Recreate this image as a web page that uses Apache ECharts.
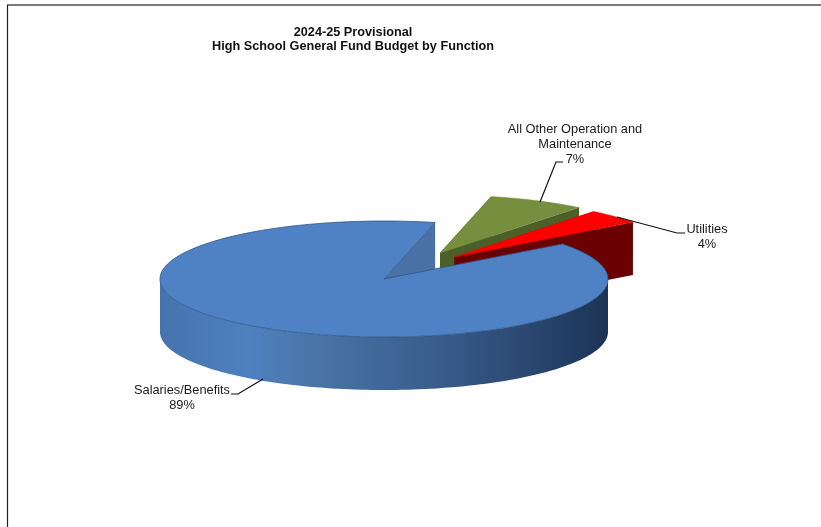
<!DOCTYPE html>
<html>
<head>
<meta charset="utf-8">
<style>html,body{margin:0;padding:0;background:#fff}#chart{width:821px;height:527px}</style>
<script src="https://cdn.jsdelivr.net/npm/echarts@6/dist/echarts.min.js"></script>
</head>
<body>
<div id="chart"></div>
<script>
// Budget shares, in percent, listed clockwise from the exploded wedges round to the large slice.
const categories = ['All Other Operation and\nMaintenance', 'Utilities', 'Salaries/Benefits'];
const shares = [7, 4, 89];

// Ellipse of the tilted pie, wall height, and where the pie starts (degrees clockwise from 12 o'clock).
const RX = 224, RY = 58, DEPTH = 53, START_ANGLE = 13.2;

// Per-slice drawing settings, in the same order as the data.
const sliceStyles = [
  { apex: [440, 253], top: '#758f3e', cut: '#4b6029' },
  { apex: [454.5, 257], top: '#fe0000', cut: '#6b0000' },
  { apex: [384, 279], top: '#4f81c5', cut: '#4a71a6' }
];
const labelStyles = [
  { x: 575, y: 122.5, leader: [[563, 162], [556, 162], [540, 202]] },
  { x: 707, y: 222.5, leader: [[685, 233], [677, 233], [617, 217]] },
  { x: 182, y: 383.5, leader: [[231, 394], [238, 394], [263, 379]] }
];

const TOTAL = shares.reduce((a, b) => a + b, 0);
const toDegrees = v => v / TOTAL * 360;

function rim(apex, deg, drop) {
  const r = deg * Math.PI / 180;
  return [apex[0] + RX * Math.sin(r), apex[1] - RY * Math.cos(r) + (drop || 0)];
}
function arc(apex, from, to, drop) {
  const pts = [];
  const steps = Math.max(2, Math.ceil(Math.abs(to - from) / 1.5));
  for (let i = 0; i <= steps; i++) pts.push(rim(apex, from + (to - from) * i / steps, drop));
  return pts;
}
function cutFace(apex, deg, fill) {
  const outer = rim(apex, deg);
  return {
    type: 'polygon',
    shape: { points: [apex, outer, [outer[0], outer[1] + DEPTH], [apex[0], apex[1] + DEPTH]] },
    style: { fill: fill }
  };
}

function renderSlice(params, api) {
  const i = params.dataIndex;
  const value = api.value(0);
  let from = START_ANGLE;
  for (let k = 0; k < i; k++) from += toDegrees(shares[k]);
  const to = from + toDegrees(value);
  const s = sliceStyles[i], l = labelStyles[i];
  const children = [];

  if (i === 2) {
    // Face seen through the notch, then the front wall of the large slice.
    children.push(cutFace(s.apex, to - 360, s.cut));
    const front = arc(s.apex, 90, 270);
    const wall = front.concat(arc(s.apex, 270, 90, DEPTH));
    children.push({
      type: 'polygon',
      shape: { points: wall },
      style: {
        fill: new echarts.graphic.LinearGradient(160, 0, 608, 0, [
          { offset: 0, color: '#4673ad' },
          { offset: 0.2, color: '#4f80bf' },
          { offset: 0.4, color: '#46709f' },
          { offset: 0.6, color: '#3a5e8e' },
          { offset: 0.8, color: '#2b4a74' },
          { offset: 1, color: '#1d3355' }
        ], true)
      }
    });
  } else {
    // Cut face along the lower edge of an exploded wedge.
    children.push(cutFace(s.apex, to, s.cut));
    children.push(cutFace(s.apex, from, s.cut));
  }

  children.push({
    type: 'polygon',
    shape: { points: [s.apex].concat(arc(s.apex, from, to)) },
    style: {
      fill: s.top,
      stroke: i === 2 ? '#2f5585' : s.top,
      lineWidth: i === 2 ? 0.8 : 0.5
    }
  });

  children.push({
    type: 'polyline',
    shape: { points: l.leader },
    style: { fill: 'none', stroke: '#111', lineWidth: 1.2 }
  });
  children.push({
    type: 'text',
    style: {
      x: l.x, y: l.y,
      text: categories[i] + '\n' + value + '%',
      align: 'center', verticalAlign: 'top',
      font: '12.8px "Liberation Sans", Arial, sans-serif',
      lineHeight: 14.7,
      fill: '#1a1a1a'
    }
  });
  return { type: 'group', children: children };
}

const chart = echarts.init(document.getElementById('chart'), null, { renderer: 'canvas' });
chart.setOption({
  animation: false,
  backgroundColor: '#fff',
  title: {
    text: '2024-25 Provisional\nHigh School General Fund Budget by Function',
    left: 353, top: 25, textAlign: 'center',
    padding: 0,
    textStyle: {
      fontFamily: '"Liberation Sans", Arial, sans-serif',
      fontSize: 12.7, fontWeight: 'bold', lineHeight: 14, color: '#111'
    }
  },
  graphic: [
    { type: 'line', shape: { x1: 7, y1: 5, x2: 821, y2: 5 }, style: { stroke: '#7a7a7a', lineWidth: 2 } },
    { type: 'line', shape: { x1: 7.5, y1: 5, x2: 7.5, y2: 527 }, style: { stroke: '#222', lineWidth: 1.2 } }
  ],
  series: [{
    type: 'custom',
    coordinateSystem: 'none',
    renderItem: renderSlice,
    data: shares.map(v => [v])
  }]
});
</script>
</body>
</html>
